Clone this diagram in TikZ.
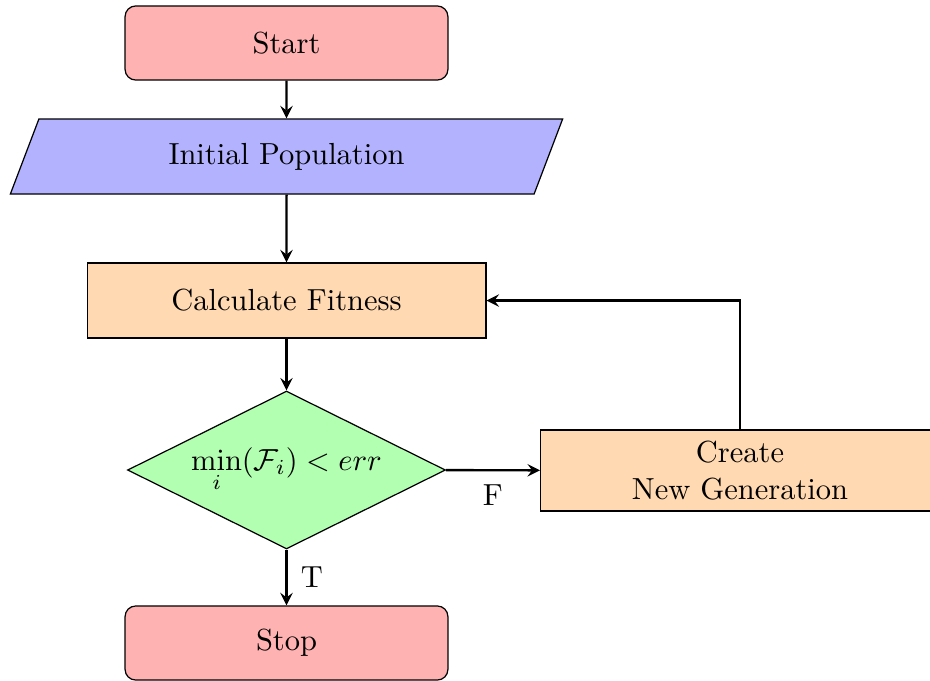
\documentclass[tikz,border=0pt]{standalone}
\usetikzlibrary{shapes.geometric}
\begin{document}
\begin{tikzpicture}[x=0.328pt,y=-0.328pt,>=stealth,
  startstop/.style={rectangle,rounded corners=3.5pt,draw=black,fill=red!30,
    minimum width=105.9pt,minimum height=24.3pt,inner sep=2pt,align=center},
  iobox/.style={trapezium,trapezium left angle=70,trapezium right angle=110,
    trapezium stretches=true,draw=black,fill=blue!30,
    minimum width=181.4pt,minimum height=24.6pt,inner sep=2pt,align=center},
  process/.style={rectangle,draw=black,fill=orange!30,
    minimum width=130.8pt,minimum height=24.6pt,inner sep=2pt,align=center},
  decision/.style={diamond,draw=black,fill=green!30,aspect=2,
    minimum width=104.3pt,minimum height=51.8pt,inner sep=0pt,align=center},
  arrow/.style={thick,->}]
  \useasboundingbox (0,0) rectangle (930,680);

  % flowchart nodes
  \node[startstop] (start) at (286.5,43) {Start};
  \node[iobox] (in1) at (286.5,156.5) {Initial Population};
  \node[process] (fit) at (286.5,300.5) {Calculate Fitness};
  \node[decision] (dec) at (286.5,470) {$\displaystyle\min_i(\mathcal{F}_i) < err$};
  \node[process,minimum height=26.6pt] (gen) at (740,470.5) {Create\\New Generation};
  \node[startstop] (stop) at (286.5,643) {Stop};

  % connectors
  \draw[arrow] (start) -- (in1);
  \draw[arrow] (in1) -- (fit);
  \draw[arrow] (fit) -- (dec);
  \draw[arrow] (dec) -- node[right,xshift=1pt] {T} (stop);
  \draw[arrow] (dec) -- node[below,yshift=-1pt] {F} (gen);
  \draw[arrow] (gen.north) |- (fit.east);
\end{tikzpicture}
\end{document}
